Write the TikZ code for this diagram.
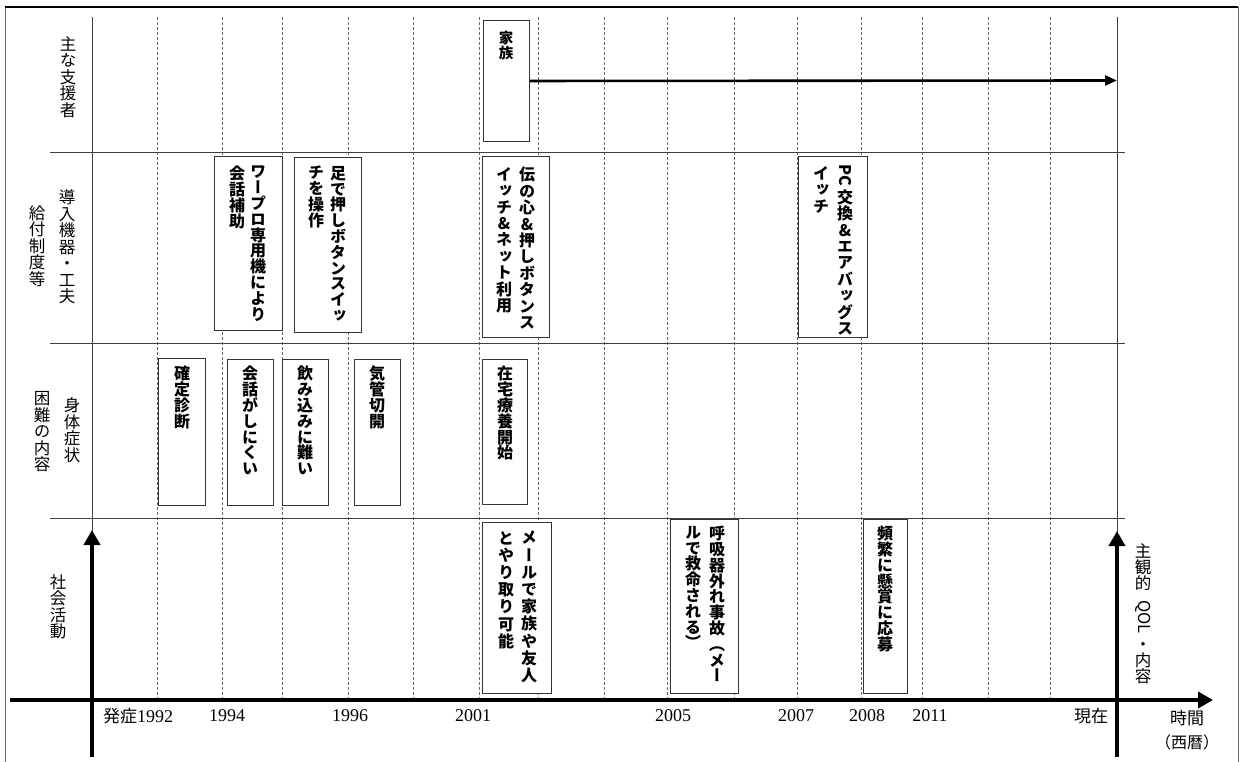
\documentclass[tikz,border=0pt]{standalone}
\usepackage{fontspec}
\usepackage{graphicx}
\usetikzlibrary{arrows.meta}
\newfontfamily\jp[RawFeature=+vert]{Noto Sans CJK JP}
\newfontfamily\jph{Noto Sans CJK JP}
\newfontfamily\ser{Liberation Serif}
\ExplSyntaxOn
\NewDocumentCommand{\vtext}{m}
 {
  \seq_clear:N \l_tmpa_seq
  \tl_map_inline:nn {#1} { \seq_put_right:Nn \l_tmpa_seq {##1} }
  \seq_use:Nn \l_tmpa_seq { \\ }
 }
\ExplSyntaxOff
\tikzset{
  frametop/.style={line width=1.6pt, draw=black},
  frameside/.style={line width=0.8pt, draw=black!60},
  rowline/.style={line width=0.9pt, draw=black!75},
  vgrid/.style={dash pattern=on 3pt off 2pt, draw=black!60, line width=0.7pt},
  ebox/.style={draw=black!80, fill=white, line width=1pt, inner sep=0pt, anchor=north west},
  vcol/.style={font=\jp\bfseries\fontsize{16}{15.8}\selectfont, align=center, inner sep=0pt, anchor=north},
  lab/.style={font=\jp\fontsize{16.5}{16.5}\selectfont, align=center, inner sep=0pt},
  year/.style={font=\ser\fontsize{18}{20}\selectfont, inner sep=0pt},
  axis/.style={line width=4.5pt, -{Triangle[length=15pt,width=16pt]}},
  flow/.style={line width=2.6pt, -{Triangle[length=12pt,width=10pt]}},
}
\begin{document}
\begin{tikzpicture}[x=1pt,y=-1pt]
\useasboundingbox (0,0) rectangle (1244,762);
% frame
\coordinate (fbl) at (5,762); \coordinate (ftl) at (5,7);
\coordinate (ftr) at (1238,7); \coordinate (fbr) at (1238,762);
\draw[frameside] (fbl) -- (ftl);
\draw[frametop] (ftl) -- (ftr);
\draw[frameside] (ftr) -- (fbr);
% dashed grid
\foreach \x in {157,222,282,348,413,479,538,604,667,734,797,861,922,988,1050}
  \draw[vgrid] (\x,17) -- (\x,698);
% row lines
\foreach \y in {152,343,518} \draw[rowline] (50,\y) -- (1125,\y);
% thin verticals
\draw[rowline] (92,17) -- (92,535);
\draw[rowline] (1117,17) -- (1117,535);
% axes
\coordinate (yl0) at (92,757); \coordinate (yl1) at (92,530);
\coordinate (yr0) at (1117,757); \coordinate (yr1) at (1117,531);
\coordinate (x0) at (10,700); \coordinate (x1) at (1213,700);
\draw[axis] (yl0) -- (yl1);
\draw[axis] (yr0) -- (yr1);
\draw[axis] (x0) -- (x1);

% left labels
\node[lab] (l1) at (68,77) {\vtext{主な支援者}};
\node[lab] (l2) at (67,247) {\vtext{導入機器・工夫}};
\node[lab] (l3) at (37,246) {\vtext{給付制度等}};
\node[lab] (l4) at (72,430) {\vtext{身体症状}};
\node[lab] (l5) at (42,432) {\vtext{困難の内容}};
\node[lab] (l6) at (58,607) {\vtext{社会活動}};
% right labels
\node[lab, font=\jp\fontsize{16.5}{16}\selectfont] (r1) at (1143,614) {\vtext{主観的{\rotatebox[origin=c]{-90}{\enspace QOL\enspace}}・内容}};
\node[lab, font=\jph\fontsize{17}{18}\selectfont] (r2) at (1187,718) {時間};
\node[lab, font=\jph\fontsize{16}{17}\selectfont] (r3) at (1187,742) {（西暦）};

% years
\node[year] (y1992) at (138,716) {{\jph\fontsize{17}{18}\selectfont 発症}1992};
\node[year] (y1994) at (227,716) {1994};
\node[year] (y1996) at (350,716) {1996};
\node[year] (y2001) at (473,716) {2001};
\node[year] (y2005) at (673,716) {2005};
\node[year] (y2007) at (796,716) {2007};
\node[year] (y2008) at (867,716) {2008};
\node[year] (y2011) at (930,716) {2011};
\node[year, font=\jph\fontsize{17}{18}\selectfont] (ynow) at (1091,716) {現在};

% row 1
\node[ebox, minimum width=46pt, minimum height=121pt] (kazoku) at (483,20) {};
\node[vcol, font=\jp\bfseries\fontsize{14.5}{15}\selectfont] (kazokut) at (506,31) {\vtext{家族}};
\coordinate (kend) at (1117,80.5);
\draw[flow] (kazoku) -- (kend);

% row 2
\node[ebox, minimum width=68pt, minimum height=174pt] (b1) at (214,156) {};
\node[vcol] (b1r) at (258,166) {\vtext{ワープロ専用機により}};
\node[vcol] (b1l) at (237,166) {\vtext{会話補助}};
\node[ebox, minimum width=67pt, minimum height=175pt] (b2) at (294,157) {};
\node[vcol] (b2r) at (338,166) {\vtext{足で押しボタンスイッ}};
\node[vcol] (b2l) at (316,166) {\vtext{チを操作}};
\node[ebox, minimum width=67pt, minimum height=181pt] (b3) at (482,156) {};
\node[vcol, font=\jp\bfseries\fontsize{16}{16.4}\selectfont] (b3r) at (527,167) {\vtext{伝の心\&押しボタンス}};
\node[vcol, font=\jp\bfseries\fontsize{16}{16.4}\selectfont] (b3l) at (504,167) {\vtext{イッチ\&ネット利用}};
\node[ebox, minimum width=69pt, minimum height=181pt] (b4) at (798,156) {};
\node[vcol, font=\jp\bfseries\fontsize{16}{16.4}\selectfont] (b4r) at (845,164) {\vtext{{\rotatebox{-90}{PC\,}}交換\&エアバッグス}};
\node[vcol, font=\jp\bfseries\fontsize{16}{16.4}\selectfont] (b4l) at (821,166) {\vtext{イッチ}};

% row 3
\node[ebox, minimum width=47pt, minimum height=147pt] (c1) at (158,358) {};
\node[vcol] (c1t) at (182,366) {\vtext{確定診断}};
\node[ebox, minimum width=46pt, minimum height=146pt] (c2) at (227,359) {};
\node[vcol] (c2t) at (250,366) {\vtext{会話がしにくい}};
\node[ebox, minimum width=46pt, minimum height=146pt] (c3) at (282,359) {};
\node[vcol] (c3t) at (305,366) {\vtext{飲み込みに難い}};
\node[ebox, minimum width=46pt, minimum height=146pt] (c4) at (354,359) {};
\node[vcol] (c4t) at (377,366) {\vtext{気管切開}};
\node[ebox, minimum width=45pt, minimum height=145pt] (c5) at (482,359) {};
\node[vcol] (c5t) at (505,366) {\vtext{在宅療養開始}};

% row 4
\node[ebox, minimum width=69pt, minimum height=171pt] (d1) at (482,522) {};
\node[vcol, font=\jp\bfseries\fontsize{16}{17.2}\selectfont] (d1r) at (529,531) {\vtext{メールで家族や友人}};
\node[vcol, font=\jp\bfseries\fontsize{16}{17.2}\selectfont] (d1l) at (506,531) {\vtext{とやり取り可能}};
\node[ebox, minimum width=68pt, minimum height=174pt] (d2) at (670,519) {};
\node[vcol] (d2r) at (717,526) {\vtext{呼吸器外れ事故（メー}};
\node[vcol] (d2l) at (693,526) {\vtext{ルで救命される）}};
\node[ebox, minimum width=44pt, minimum height=174pt] (d3) at (863,519) {};
\node[vcol] (d3t) at (885,526) {\vtext{頻繁に懸賞に応募}};
\end{tikzpicture}
\end{document}
